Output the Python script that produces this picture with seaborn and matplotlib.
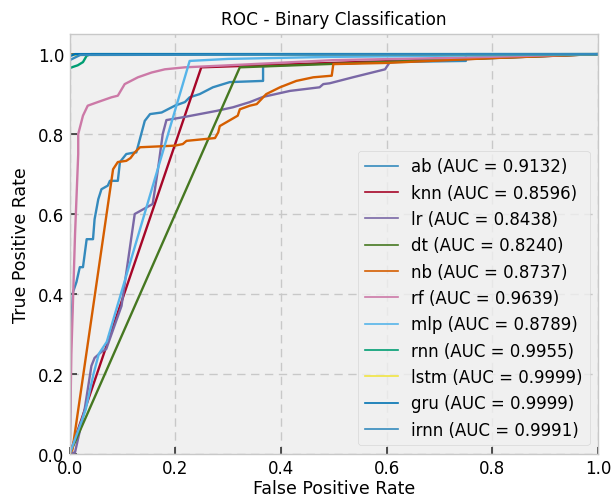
import matplotlib
matplotlib.use("Agg")
import matplotlib.pyplot as plt
import seaborn as sns

# ---- data ----
models = ["ab", "knn", "lr", "dt", "nb", "rf", "mlp", "rnn", "lstm", "gru", "irnn"]
aucs = ["0.9132", "0.8596", "0.8438", "0.8240", "0.8737", "0.9639",
        "0.8789", "0.9955", "0.9999", "0.9999", "0.9991"]
colors = ["#348ABD", "#A60628", "#7A68A6", "#467821", "#D55E00", "#CC79A7",
          "#56B4E9", "#009E73", "#F0E442", "#0072B2", "#348ABD"]

ab_fpr = [0, 0.002, 0.006, 0.0127, 0.019, 0.025, 0.032, 0.044, 0.047, 0.054, 0.06,
          0.072, 0.076, 0.091, 0.095, 0.107, 0.123, 0.126, 0.142, 0.152, 0.174,
          0.199, 0.218, 0.227, 0.246, 0.271, 0.303, 0.366, 0.366, 0.45, 0.6, 0.75, 0.75, 1.0]
ab_tpr = [0, 0.30, 0.404, 0.43, 0.467, 0.467, 0.537, 0.537, 0.587, 0.637, 0.662,
          0.671, 0.683, 0.683, 0.73, 0.75, 0.754, 0.754, 0.833, 0.85, 0.854,
          0.871, 0.88, 0.892, 0.90, 0.917, 0.93, 0.933, 0.97, 0.975, 0.98, 0.983, 1.0, 1.0]

knn_fpr = [0, 0.249, 1.0]
knn_tpr = [0, 0.967, 1.0]

lr_fpr = [0, 0.01, 0.028, 0.041, 0.047, 0.06, 0.069, 0.098, 0.123, 0.157, 0.167,
          0.176, 0.183, 0.214, 0.246, 0.278, 0.309, 0.341, 0.366, 0.417, 0.473,
          0.48, 0.492, 0.536, 0.597, 0.606, 0.8, 1.0]
lr_tpr = [0, 0.004, 0.11, 0.22, 0.24, 0.255, 0.262, 0.37, 0.6, 0.625, 0.712,
          0.80, 0.835, 0.842, 0.85, 0.858, 0.867, 0.88, 0.893, 0.908, 0.917,
          0.925, 0.927, 0.942, 0.962, 0.98, 0.99, 1.0]

dt_fpr = [0, 0.322, 1.0]
dt_tpr = [0, 0.967, 1.0]

nb_fpr = [0, 0.005, 0.082, 0.091, 0.107, 0.115, 0.123, 0.133, 0.199, 0.214, 0.221,
          0.275, 0.281, 0.284, 0.318, 0.322, 0.341, 0.354, 0.372, 0.398, 0.429,
          0.461, 0.496, 0.499, 0.6, 0.8, 1.0]
nb_tpr = [0, 0.01, 0.712, 0.73, 0.733, 0.74, 0.754, 0.767, 0.771, 0.775, 0.783,
          0.79, 0.804, 0.82, 0.846, 0.862, 0.871, 0.875, 0.9, 0.917, 0.933,
          0.942, 0.946, 0.975, 0.978, 0.99, 1.0]

rf_fpr = [0, 0.003, 0.01, 0.016, 0.016, 0.025, 0.034, 0.053, 0.079, 0.091, 0.104,
          0.129, 0.155, 0.18, 0.218, 0.3, 0.5, 0.7, 1.0]
rf_tpr = [0, 0.25, 0.55, 0.75, 0.8, 0.846, 0.871, 0.88, 0.892, 0.896, 0.925,
          0.942, 0.954, 0.962, 0.967, 0.972, 0.985, 0.99, 1.0]

mlp_fpr = [0, 0.03, 0.045, 0.055, 0.07, 0.227, 0.3, 0.49, 1.0]
mlp_tpr = [0, 0.11, 0.2, 0.25, 0.28, 0.983, 0.988, 0.993, 1.0]

rnn_fpr = [0, 0, 0.006, 0.015, 0.025, 0.032, 0.04, 1.0]
rnn_tpr = [0, 0.965, 0.968, 0.972, 0.98, 0.996, 1.0, 1.0]

lstm_fpr = [0, 0, 1.0]
lstm_tpr = [0, 0.998, 1.0]

gru_fpr = [0, 0, 0.01, 1.0]
gru_tpr = [0, 0.995, 1.0, 1.0]

irnn_fpr = [0, 0, 0.02, 1.0]
irnn_tpr = [0, 0.985, 0.998, 1.0]

fprs = [ab_fpr, knn_fpr, lr_fpr, dt_fpr, nb_fpr, rf_fpr, mlp_fpr,
        rnn_fpr, lstm_fpr, gru_fpr, irnn_fpr]
tprs = [ab_tpr, knn_tpr, lr_tpr, dt_tpr, nb_tpr, rf_tpr, mlp_tpr,
        rnn_tpr, lstm_tpr, gru_tpr, irnn_tpr]

# ---- style ----
plt.style.use("bmh")
plt.rcParams["font.family"] = ["DejaVu Sans"]

fig, ax = plt.subplots(figsize=(6.12, 5.02), dpi=100)
fig.subplots_adjust(left=0.114, right=0.977, bottom=0.094, top=0.930)

for name, auc, c, fx, fy in zip(models, aucs, colors, fprs, tprs):
    sns.lineplot(x=fx, y=fy, sort=False, estimator=None, color=c,
                 linewidth=1.7, label=f"{name} (AUC = {auc})", ax=ax)

ax.set_xlim(0, 1.0)
ax.set_ylim(0, 1.05)
ax.set_xticks([0, 0.2, 0.4, 0.6, 0.8, 1.0])
ax.set_yticks([0, 0.2, 0.4, 0.6, 0.8, 1.0])
ax.set_facecolor("#f0f0f0")
ax.grid(True, color="#c8c8c8", linestyle=(0, (6, 4)), linewidth=1.0)
for s in ax.spines.values():
    s.set_color("#c8c8c8")
    s.set_linewidth(1.0)
ax.tick_params(direction="in", length=5, width=1.2, color="#333333",
               labelsize=12, pad=4)

ax.set_title("ROC - Binary Classification", fontsize=12.2, pad=7)
ax.set_xlabel("False Positive Rate", fontsize=12.5, labelpad=1)
ax.set_ylabel("True Positive Rate", fontsize=12.5, labelpad=6)

leg = ax.legend(loc="lower right", fontsize=12, fancybox=True, framealpha=0.8)
leg.get_frame().set_facecolor("#f0f0f0")
leg.get_frame().set_edgecolor("#d0d0d0")
for h in leg.get_lines():
    h.set_linewidth(1.2)

fig.savefig("out.png", dpi=100)
